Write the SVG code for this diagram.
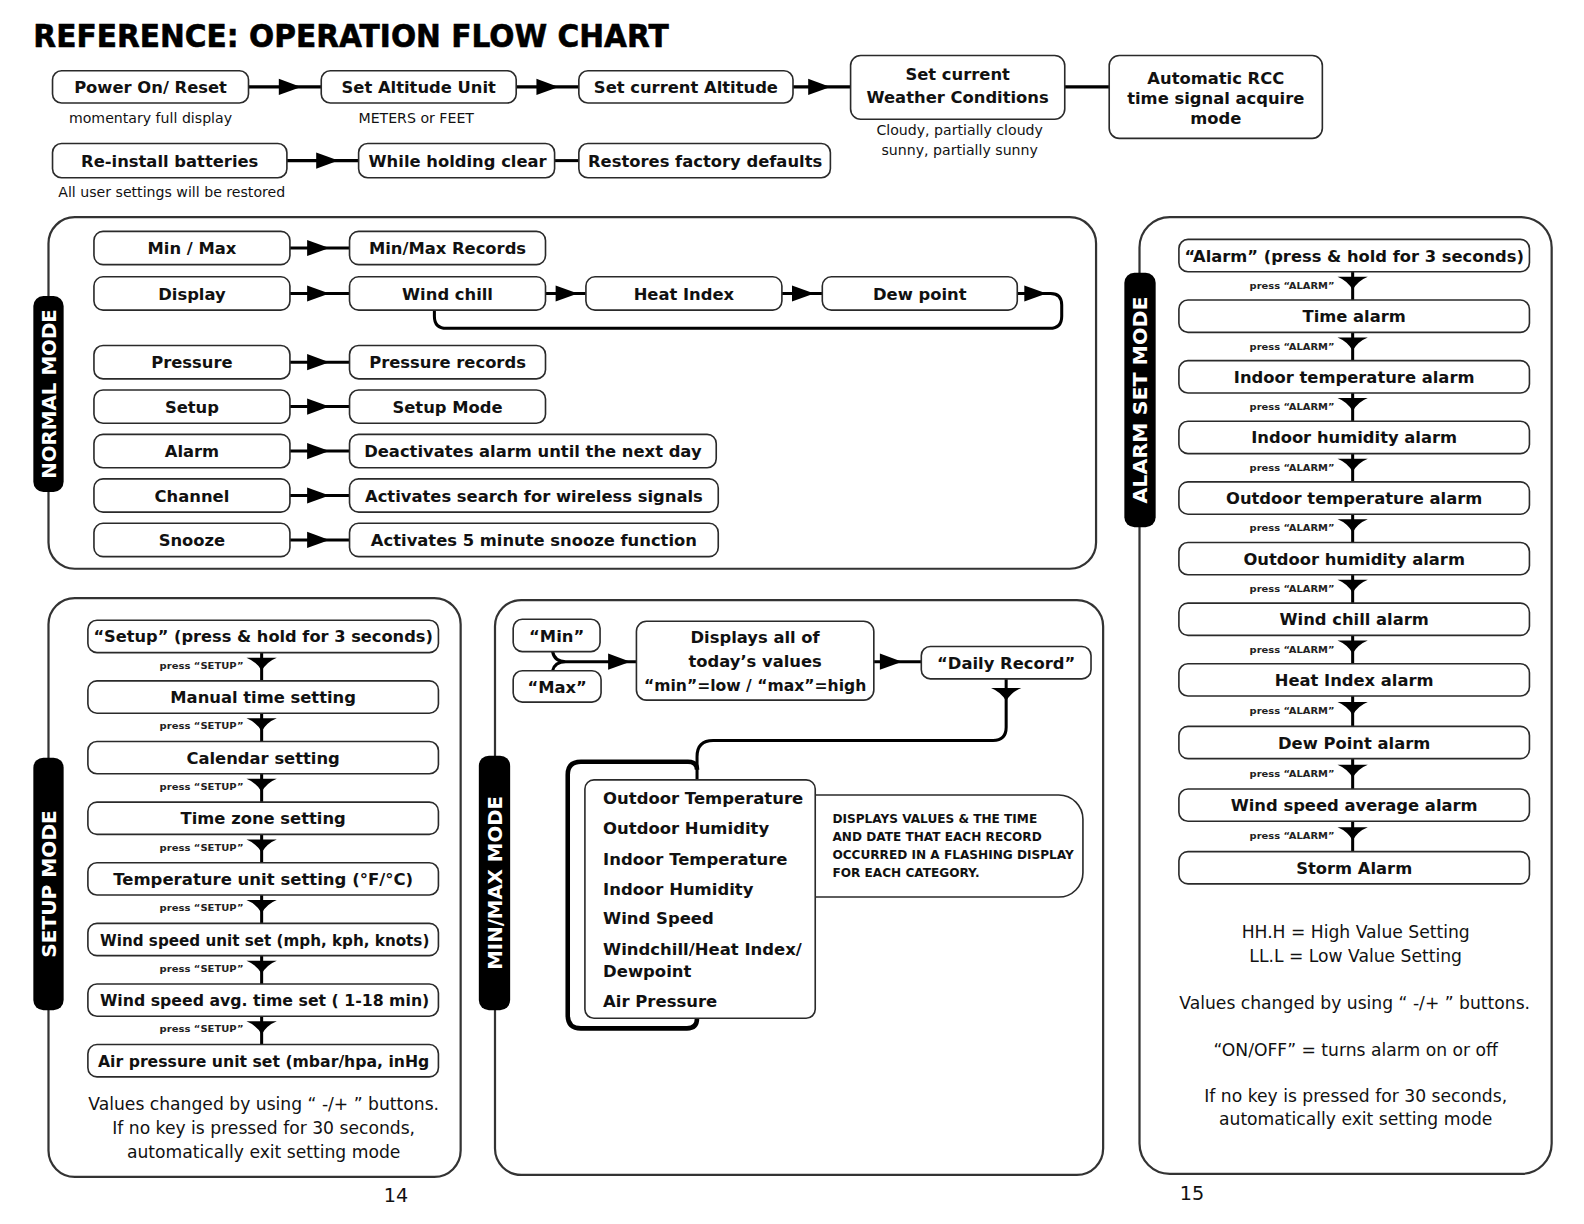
<svg xmlns="http://www.w3.org/2000/svg" xmlns:xlink="http://www.w3.org/1999/xlink" width="1584" height="1224" viewBox="0 0 1584 1224">
<style>
.bg{fill:#fff}
.box{fill:#fff;stroke:#2a2a2a;stroke-width:1.6}
.panel{fill:none;stroke:#333;stroke-width:2.2}
.pill{fill:#000}
.t{font-family:"DejaVu Sans","Liberation Sans",sans-serif;font-weight:bold;font-size:16.2px;text-anchor:middle;fill:#111}
.tl{font-family:"DejaVu Sans","Liberation Sans",sans-serif;font-weight:bold;font-size:16.3px;fill:#111}
.sub{font-family:"DejaVu Sans","Liberation Sans",sans-serif;font-size:14px;text-anchor:middle;fill:#111}
.note{font-family:"DejaVu Sans","Liberation Sans",sans-serif;font-size:17px;text-anchor:middle;fill:#111}
.pt{font-family:"DejaVu Sans","Liberation Sans",sans-serif;font-weight:bold;font-size:19px;text-anchor:middle;fill:#fff}
.press{font-family:"DejaVu Sans","Liberation Sans",sans-serif;font-weight:bold;font-size:9.5px;text-anchor:end;fill:#222}
.desc{font-family:"DejaVu Sans","Liberation Sans",sans-serif;font-weight:bold;font-size:12px;fill:#111}
.title{font-family:"DejaVu Sans","Liberation Sans",sans-serif;font-weight:bold;font-size:32px;fill:#000;stroke:#000;stroke-width:0.6}
.conn{fill:none;stroke:#000;stroke-width:3}
.thick{fill:none;stroke:#000;stroke-width:4.5}
.head{fill:#000}
</style>
<defs>
<path id="arR" d="M-22,-8 L0,0 L-22,8 Z"/>
<path id="arD" d="M-15,0 L15,0 Q5,4 0,13 Q-5,4 -15,0 Z"/>
</defs>
<rect class="bg" x="0" y="0" width="1584" height="1224"/>
<g transform="scale(1.0102)">
<text class="title" x="33" y="47" textLength="629" lengthAdjust="spacingAndGlyphs">REFERENCE: OPERATION FLOW CHART</text>

<!-- panels -->
<g id="panels">
<rect class="panel" x="48" y="215" width="1037" height="348" rx="26"/>
<rect class="panel" x="48" y="592" width="408" height="573" rx="26"/>
<rect class="panel" x="490" y="594" width="602" height="569" rx="26"/>
<rect class="panel" x="1128" y="215" width="408" height="947" rx="30"/>
</g>

<!-- mode labels -->
<g id="label-normal"><rect class="pill" x="33" y="293" width="30" height="194" rx="10"/><text class="pt" transform="translate(48,390) rotate(-90)" y="7" textLength="168" lengthAdjust="spacingAndGlyphs">NORMAL MODE</text></g>
<g id="label-setup"><rect class="pill" x="33" y="750" width="30" height="250" rx="10"/><text class="pt" transform="translate(48,875) rotate(-90)" y="7" textLength="146" lengthAdjust="spacingAndGlyphs">SETUP MODE</text></g>
<g id="label-minmax"><rect class="pill" x="474" y="748" width="31" height="252" rx="10"/><text class="pt" transform="translate(489.5,874) rotate(-90)" y="7" textLength="172" lengthAdjust="spacingAndGlyphs">MIN/MAX MODE</text></g>
<g id="label-alarm"><rect class="pill" x="1113" y="270" width="31" height="252" rx="10"/><text class="pt" transform="translate(1128.5,396) rotate(-90)" y="7" textLength="205" lengthAdjust="spacingAndGlyphs">ALARM SET MODE</text></g>

<!-- connectors -->
<g id="connectors">
<line class="conn" x1="246" y1="86" x2="318" y2="86"/><use xlink:href="#arR" class="head" x="298" y="86"/>
<line class="conn" x1="511" y1="86" x2="573" y2="86"/><use xlink:href="#arR" class="head" x="553" y="86"/>
<line class="conn" x1="785" y1="86" x2="842" y2="86"/><use xlink:href="#arR" class="head" x="822" y="86"/>
<line class="conn" x1="1054" y1="86" x2="1098" y2="86"/>
<line class="conn" x1="284" y1="159" x2="355" y2="159"/><use xlink:href="#arR" class="head" x="335" y="159"/>
<line class="conn" x1="549" y1="159" x2="573" y2="159"/>

<line class="conn" x1="287" y1="245.5" x2="346" y2="245.5"/><use xlink:href="#arR" class="head" x="326" y="245.5"/>
<line class="conn" x1="287" y1="290.5" x2="346" y2="290.5"/><use xlink:href="#arR" class="head" x="326" y="290.5"/>
<line class="conn" x1="540" y1="290.5" x2="580" y2="290.5"/><use xlink:href="#arR" class="head" x="572" y="290.5"/>
<line class="conn" x1="774" y1="290.5" x2="814" y2="290.5"/><use xlink:href="#arR" class="head" x="806" y="290.5"/>
<path class="conn" d="M1007 290.5 L1040 290.5 Q1051 290.5 1051 302 L1051 313 Q1051 325 1039 325 L442 325 Q430 325 430 313 L430 307"/><use xlink:href="#arR" class="head" x="1036" y="290.5"/>
<line class="conn" x1="287" y1="358.5" x2="346" y2="358.5"/><use xlink:href="#arR" class="head" x="326" y="358.5"/>
<line class="conn" x1="287" y1="402.5" x2="346" y2="402.5"/><use xlink:href="#arR" class="head" x="326" y="402.5"/>
<line class="conn" x1="287" y1="446.5" x2="346" y2="446.5"/><use xlink:href="#arR" class="head" x="326" y="446.5"/>
<line class="conn" x1="287" y1="490.5" x2="346" y2="490.5"/><use xlink:href="#arR" class="head" x="326" y="490.5"/>
<line class="conn" x1="287" y1="534.5" x2="346" y2="534.5"/><use xlink:href="#arR" class="head" x="326" y="534.5"/>

<!-- setup chain -->
<g>
<line class="conn" x1="259" y1="646" x2="259" y2="674"/><use xlink:href="#arD" class="head" x="259" y="651"/><text class="press" x="241" y="662" textLength="83" lengthAdjust="spacingAndGlyphs">press “SETUP”</text>
<line class="conn" x1="259" y1="706" x2="259" y2="734"/><use xlink:href="#arD" class="head" x="259" y="711"/><text class="press" x="241" y="722" textLength="83" lengthAdjust="spacingAndGlyphs">press “SETUP”</text>
<line class="conn" x1="259" y1="766" x2="259" y2="794"/><use xlink:href="#arD" class="head" x="259" y="771"/><text class="press" x="241" y="782" textLength="83" lengthAdjust="spacingAndGlyphs">press “SETUP”</text>
<line class="conn" x1="259" y1="826" x2="259" y2="854"/><use xlink:href="#arD" class="head" x="259" y="831"/><text class="press" x="241" y="842" textLength="83" lengthAdjust="spacingAndGlyphs">press “SETUP”</text>
<line class="conn" x1="259" y1="886" x2="259" y2="914"/><use xlink:href="#arD" class="head" x="259" y="891"/><text class="press" x="241" y="902" textLength="83" lengthAdjust="spacingAndGlyphs">press “SETUP”</text>
<line class="conn" x1="259" y1="946" x2="259" y2="974"/><use xlink:href="#arD" class="head" x="259" y="951"/><text class="press" x="241" y="962" textLength="83" lengthAdjust="spacingAndGlyphs">press “SETUP”</text>
<line class="conn" x1="259" y1="1006" x2="259" y2="1034"/><use xlink:href="#arD" class="head" x="259" y="1011"/><text class="press" x="241" y="1022" textLength="83" lengthAdjust="spacingAndGlyphs">press “SETUP”</text>
</g>

<!-- alarm chain -->
<g>
<line class="conn" x1="1339" y1="269" x2="1339" y2="297"/><use xlink:href="#arD" class="head" x="1339" y="274"/><text class="press" x="1321" y="286" textLength="84" lengthAdjust="spacingAndGlyphs">press “ALARM”</text>
<line class="conn" x1="1339" y1="329" x2="1339" y2="357"/><use xlink:href="#arD" class="head" x="1339" y="334"/><text class="press" x="1321" y="346" textLength="84" lengthAdjust="spacingAndGlyphs">press “ALARM”</text>
<line class="conn" x1="1339" y1="389" x2="1339" y2="417"/><use xlink:href="#arD" class="head" x="1339" y="394"/><text class="press" x="1321" y="406" textLength="84" lengthAdjust="spacingAndGlyphs">press “ALARM”</text>
<line class="conn" x1="1339" y1="449" x2="1339" y2="477"/><use xlink:href="#arD" class="head" x="1339" y="454"/><text class="press" x="1321" y="466" textLength="84" lengthAdjust="spacingAndGlyphs">press “ALARM”</text>
<line class="conn" x1="1339" y1="509" x2="1339" y2="537"/><use xlink:href="#arD" class="head" x="1339" y="514"/><text class="press" x="1321" y="526" textLength="84" lengthAdjust="spacingAndGlyphs">press “ALARM”</text>
<line class="conn" x1="1339" y1="569" x2="1339" y2="597"/><use xlink:href="#arD" class="head" x="1339" y="574"/><text class="press" x="1321" y="586" textLength="84" lengthAdjust="spacingAndGlyphs">press “ALARM”</text>
<line class="conn" x1="1339" y1="629" x2="1339" y2="657"/><use xlink:href="#arD" class="head" x="1339" y="634"/><text class="press" x="1321" y="646" textLength="84" lengthAdjust="spacingAndGlyphs">press “ALARM”</text>
<line class="conn" x1="1339" y1="689" x2="1339" y2="719"/><use xlink:href="#arD" class="head" x="1339" y="695"/><text class="press" x="1321" y="707" textLength="84" lengthAdjust="spacingAndGlyphs">press “ALARM”</text>
<line class="conn" x1="1339" y1="751" x2="1339" y2="781"/><use xlink:href="#arD" class="head" x="1339" y="757"/><text class="press" x="1321" y="769" textLength="84" lengthAdjust="spacingAndGlyphs">press “ALARM”</text>
<line class="conn" x1="1339" y1="813" x2="1339" y2="843"/><use xlink:href="#arD" class="head" x="1339" y="819"/><text class="press" x="1321" y="831" textLength="84" lengthAdjust="spacingAndGlyphs">press “ALARM”</text>
</g>

<!-- min/max -->
<path class="conn" d="M547 645 Q549 655 560 655 M547 664 Q549 655 560 655 M556 655 L630 655"/><use xlink:href="#arR" class="head" x="624" y="655"/>
<line class="conn" x1="865" y1="655" x2="912" y2="655"/><use xlink:href="#arR" class="head" x="893" y="655"/>
<path class="conn" d="M996 672 L996 720 Q996 733 983 733 L706 733 Q690 733 690 749 L690 772"/><use xlink:href="#arD" class="head" x="996" y="681"/>
<path class="thick" d="M690 762 Q690 754 681 754 L575 754 Q562 754 562 767 L562 1005 Q562 1018 575 1018 L680 1018 Q690 1018 690 1008"/>
</g>

<!-- top nodes -->
<g id="n-power"><rect class="box" x="52" y="70" width="194" height="32" rx="9"/><text class="t" x="149" y="92">Power On/ Reset</text><text class="sub" x="149" y="122">momentary full display</text></g>
<g id="n-altunit"><rect class="box" x="318" y="70" width="193" height="32" rx="9"/><text class="t" x="414.5" y="92">Set Altitude Unit</text><text class="sub" x="412" y="122">METERS or FEET</text></g>
<g id="n-altitude"><rect class="box" x="573" y="70" width="212" height="32" rx="9"/><text class="t" x="679" y="92">Set current Altitude</text></g>
<g id="n-weather"><rect class="box" x="842" y="55" width="212" height="63" rx="10"/><text class="t" x="948" y="79">Set current</text><text class="t" x="948" y="102">Weather Conditions</text><text class="sub" x="950" y="134">Cloudy, partially cloudy</text><text class="sub" x="950" y="153">sunny, partially sunny</text></g>
<g id="n-rcc"><rect class="box" x="1098" y="55" width="211" height="82" rx="10"/><text class="t" x="1203.5" y="83">Automatic RCC</text><text class="t" x="1203.5" y="103">time signal acquire</text><text class="t" x="1203.5" y="123">mode</text></g>
<g id="n-reinstall"><rect class="box" x="52" y="142" width="232" height="34" rx="9"/><text class="t" x="168" y="165">Re-install batteries</text><text class="sub" x="170" y="195">All user settings will be restored</text></g>
<g id="n-holding"><rect class="box" x="355" y="142" width="194" height="34" rx="9"/><text class="t" x="453" y="165">While holding clear</text></g>
<g id="n-restores"><rect class="box" x="573" y="142" width="249" height="34" rx="9"/><text class="t" x="698" y="165">Restores factory defaults</text></g>

<!-- normal mode nodes -->
<g id="n-minmax"><rect class="box" x="93" y="229" width="194" height="33" rx="9"/><text class="t" x="190" y="251.5">Min / Max</text></g>
<g id="n-minmaxrec"><rect class="box" x="346" y="229" width="194" height="33" rx="9"/><text class="t" x="443" y="251.5">Min/Max Records</text></g>
<g id="n-display"><rect class="box" x="93" y="274" width="194" height="33" rx="9"/><text class="t" x="190" y="296.5">Display</text></g>
<g id="n-windchill"><rect class="box" x="346" y="274" width="194" height="33" rx="9"/><text class="t" x="443" y="296.5">Wind chill</text></g>
<g id="n-heatindex"><rect class="box" x="580" y="274" width="194" height="33" rx="9"/><text class="t" x="677" y="296.5">Heat Index</text></g>
<g id="n-dewpoint"><rect class="box" x="814" y="274" width="193" height="33" rx="9"/><text class="t" x="910.5" y="296.5">Dew point</text></g>
<g id="n-pressure"><rect class="box" x="93" y="342" width="194" height="33" rx="9"/><text class="t" x="190" y="364.5">Pressure</text></g>
<g id="n-pressurerec"><rect class="box" x="346" y="342" width="194" height="33" rx="9"/><text class="t" x="443" y="364.5">Pressure records</text></g>
<g id="n-setup"><rect class="box" x="93" y="386" width="194" height="33" rx="9"/><text class="t" x="190" y="408.5">Setup</text></g>
<g id="n-setupmode"><rect class="box" x="346" y="386" width="194" height="33" rx="9"/><text class="t" x="443" y="408.5">Setup Mode</text></g>
<g id="n-alarm"><rect class="box" x="93" y="430" width="194" height="33" rx="9"/><text class="t" x="190" y="452.5">Alarm</text></g>
<g id="n-deactivates"><rect class="box" x="346" y="430" width="363" height="33" rx="9"/><text class="t" x="527.5" y="452.5">Deactivates alarm until the next day</text></g>
<g id="n-channel"><rect class="box" x="93" y="474" width="194" height="33" rx="9"/><text class="t" x="190" y="496.5">Channel</text></g>
<g id="n-search"><rect class="box" x="346" y="474" width="365" height="33" rx="9"/><text class="t" x="528.5" y="496.5">Activates search for wireless signals</text></g>
<g id="n-snooze"><rect class="box" x="93" y="518" width="194" height="33" rx="9"/><text class="t" x="190" y="540.5">Snooze</text></g>
<g id="n-snoozefn"><rect class="box" x="346" y="518" width="365" height="33" rx="9"/><text class="t" x="528.5" y="540.5">Activates 5 minute snooze function</text></g>

<!-- setup mode nodes -->
<g id="s-1"><rect class="box" x="87" y="614" width="347" height="32" rx="9"/><text class="t" x="260.5" y="636" textLength="336" lengthAdjust="spacingAndGlyphs">“Setup” (press &amp; hold for 3 seconds)</text></g>
<g id="s-2"><rect class="box" x="87" y="674" width="347" height="32" rx="9"/><text class="t" x="260.5" y="696">Manual time setting</text></g>
<g id="s-3"><rect class="box" x="87" y="734" width="347" height="32" rx="9"/><text class="t" x="260.5" y="756">Calendar setting</text></g>
<g id="s-4"><rect class="box" x="87" y="794" width="347" height="32" rx="9"/><text class="t" x="260.5" y="816">Time zone setting</text></g>
<g id="s-5"><rect class="box" x="87" y="854" width="347" height="32" rx="9"/><text class="t" x="260.5" y="876" textLength="297" lengthAdjust="spacingAndGlyphs">Temperature unit setting (°F/°C)</text></g>
<g id="s-6"><rect class="box" x="87" y="914" width="347" height="32" rx="9"/><text class="t" x="262" y="936" textLength="326" lengthAdjust="spacingAndGlyphs">Wind speed unit set (mph, kph, knots)</text></g>
<g id="s-7"><rect class="box" x="87" y="974" width="347" height="32" rx="9"/><text class="t" x="262" y="996" textLength="326" lengthAdjust="spacingAndGlyphs">Wind speed avg. time set ( 1-18 min)</text></g>
<g id="s-8"><rect class="box" x="87" y="1034" width="347" height="32" rx="9"/><text class="t" x="261" y="1056" textLength="328" lengthAdjust="spacingAndGlyphs">Air pressure unit set (mbar/hpa, inHg</text></g>
<g id="s-note"><text class="note" x="261" y="1099">Values changed by using “ -/+ ” buttons.</text><text class="note" x="261" y="1123">If no key is pressed for 30 seconds,</text><text class="note" x="261" y="1146">automatically exit setting mode</text></g>

<!-- min/max nodes -->
<g id="m-min"><rect class="box" x="508" y="613" width="86" height="32" rx="9"/><text class="t" x="551" y="636">“Min”</text></g>
<g id="m-max"><rect class="box" x="508" y="664" width="87" height="31" rx="9"/><text class="t" x="551.5" y="686">“Max”</text></g>
<g id="m-displays"><rect class="box" x="630" y="615" width="235" height="78" rx="10"/><text class="t" x="747.5" y="637">Displays all of</text><text class="t" x="747.5" y="660">today’s values</text><text class="t" x="747.5" y="684" textLength="220" lengthAdjust="spacingAndGlyphs">“min”=low / “max”=high</text></g>
<g id="m-daily"><rect class="box" x="912" y="640" width="168" height="32" rx="9"/><text class="t" x="996" y="662">“Daily Record”</text></g>
<g id="m-desc"><rect class="box" x="780" y="787" width="292" height="101" rx="24"/><text class="desc" x="824" y="815">DISPLAYS VALUES &amp; THE TIME</text><text class="desc" x="824" y="833">AND DATE THAT EACH RECORD</text><text class="desc" x="824" y="850">OCCURRED IN A FLASHING DISPLAY</text><text class="desc" x="824" y="868">FOR EACH CATEGORY.</text></g>
<g id="m-list"><rect class="box" x="579" y="772" width="228" height="236" rx="9"/>
<text class="tl" x="597" y="796">Outdoor Temperature</text>
<text class="tl" x="597" y="826">Outdoor Humidity</text>
<text class="tl" x="597" y="856">Indoor Temperature</text>
<text class="tl" x="597" y="886">Indoor Humidity</text>
<text class="tl" x="597" y="915">Wind Speed</text>
<text class="tl" x="597" y="945">Windchill/Heat Index/</text>
<text class="tl" x="597" y="967">Dewpoint</text>
<text class="tl" x="597" y="997">Air Pressure</text></g>

<!-- alarm nodes -->
<g id="a-1"><rect class="box" x="1167" y="237" width="347" height="32" rx="9"/><text class="t" x="1340.5" y="259" textLength="336" lengthAdjust="spacingAndGlyphs">“Alarm” (press &amp; hold for 3 seconds)</text></g>
<g id="a-2"><rect class="box" x="1167" y="297" width="347" height="32" rx="9"/><text class="t" x="1340.5" y="319">Time alarm</text></g>
<g id="a-3"><rect class="box" x="1167" y="357" width="347" height="32" rx="9"/><text class="t" x="1340.5" y="379">Indoor temperature alarm</text></g>
<g id="a-4"><rect class="box" x="1167" y="417" width="347" height="32" rx="9"/><text class="t" x="1340.5" y="439">Indoor humidity alarm</text></g>
<g id="a-5"><rect class="box" x="1167" y="477" width="347" height="32" rx="9"/><text class="t" x="1340.5" y="499">Outdoor temperature alarm</text></g>
<g id="a-6"><rect class="box" x="1167" y="537" width="347" height="32" rx="9"/><text class="t" x="1340.5" y="559">Outdoor humidity alarm</text></g>
<g id="a-7"><rect class="box" x="1167" y="597" width="347" height="32" rx="9"/><text class="t" x="1340.5" y="619">Wind chill alarm</text></g>
<g id="a-8"><rect class="box" x="1167" y="657" width="347" height="32" rx="9"/><text class="t" x="1340.5" y="679">Heat Index alarm</text></g>
<g id="a-9"><rect class="box" x="1167" y="719" width="347" height="32" rx="9"/><text class="t" x="1340.5" y="741">Dew Point alarm</text></g>
<g id="a-10"><rect class="box" x="1167" y="781" width="347" height="32" rx="9"/><text class="t" x="1340.5" y="803">Wind speed average alarm</text></g>
<g id="a-11"><rect class="box" x="1167" y="843" width="347" height="32" rx="9"/><text class="t" x="1340.5" y="865">Storm Alarm</text></g>
<g id="a-note"><text class="note" x="1342" y="929">HH.H = High Value Setting</text><text class="note" x="1342" y="952">LL.L = Low Value Setting</text><text class="note" x="1341" y="999">Values changed by using “ -/+ ” buttons.</text><text class="note" x="1342" y="1045">“ON/OFF” = turns alarm on or off</text><text class="note" x="1342" y="1091">If no key is pressed for 30 seconds,</text><text class="note" x="1342" y="1114">automatically exit setting mode</text></g>

<text class="note" x="392" y="1190" style="font-size:19px">14</text>
<text class="note" x="1180" y="1188" style="font-size:19px">15</text>
</g>
</svg>
